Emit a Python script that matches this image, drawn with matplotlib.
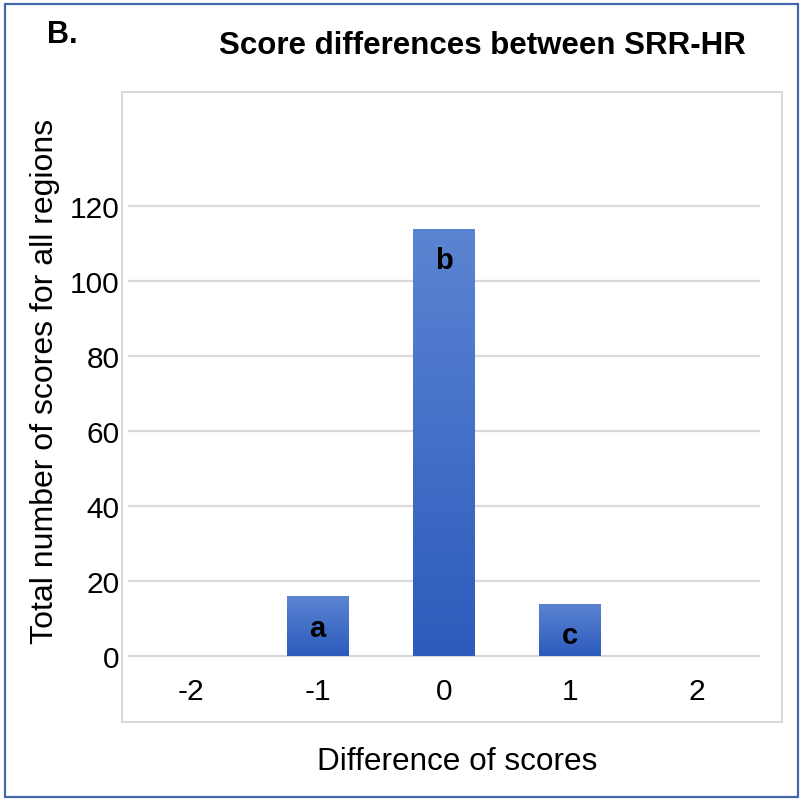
import numpy as np
import matplotlib.pyplot as plt
from matplotlib.patches import Rectangle
from matplotlib.colors import LinearSegmentedColormap

plt.rcParams['font.family'] = ['Liberation Sans', 'DejaVu Sans']

# ===== 数据 =====
categories = [-2, -1, 0, 1, 2]
tick_labels = ['-2', '-1', '0', '1', '2']
counts = [0, 16, 114, 14, 0]
bar_letters = ['', 'a', 'b', 'c', '']
y_ticks = [0, 20, 40, 60, 80, 100, 120]

title = 'Score differences between SRR-HR'
panel_label = 'B.'
x_label = 'Difference of scores'
y_label = 'Total number of scores for all regions'

W = 803
fig = plt.figure(figsize=(W / 100, W / 100), dpi=100)


def px(x0, y0, x1, y1):
    # 像素坐标 -> figure 坐标 (left, bottom, width, height)
    return [x0 / W, 1 - y1 / W, (x1 - x0) / W, (y1 - y0) / W]


# 外框 + 绘图区灰框
fig.patches.append(Rectangle((5 / W, 5 / W), 793 / W, 793 / W, transform=fig.transFigure,
                             fill=False, edgecolor='#4466AA', lw=1.6))
l, b, w, h = px(122, 93, 782, 723)
fig.patches.append(Rectangle((l, b), w, h, transform=fig.transFigure,
                             fill=False, edgecolor='#D9D9D9', lw=1.5))

ax = fig.add_axes(px(128, 199.5, 760, 664.5))
ax.set_xlim(-2.5, 2.5)
ax.set_ylim(-2, 122)
for s in ax.spines.values():
    s.set_visible(False)
ax.set_yticks(y_ticks)
ax.set_yticklabels([str(t) for t in y_ticks], fontsize=21.5)
ax.set_xticks(categories)
ax.set_xticklabels(tick_labels, fontsize=21.5)
ax.tick_params(length=0)
ax.tick_params(axis='y', pad=6)
ax.tick_params(axis='x', pad=10)
ax.yaxis.grid(True, color='#D9D9D9', lw=1.6)
ax.set_axisbelow(True)

# 渐变柱
cmap = LinearSegmentedColormap.from_list('bar', ['#2C5BBC', '#5B84D2'])
grad = np.linspace(0, 1, 256).reshape(-1, 1)
bars = ax.bar(categories, counts, width=0.49, color='#4270C8', zorder=2)
for bar, v in zip(bars, counts):
    if v <= 0:
        continue
    x0 = bar.get_x()
    im = ax.imshow(grad, extent=[x0, x0 + bar.get_width(), 0, v], origin='lower',
                   cmap=cmap, aspect='auto', zorder=3)
    im.set_clip_path(bar)
ax.set_xlim(-2.5, 2.5)
ax.set_ylim(-2, 122)

for c, v, t in zip(categories, counts, bar_letters):
    if t:
        ax.text(c, v - 8.5, t, ha='center', va='center', fontsize=21,
                fontweight='bold', color='black', zorder=4)

fig.text(482 / W, 1 - 46 / W, title, ha='center', va='center', fontsize=22.5, fontweight='bold')
fig.text(62 / W, 1 - 35 / W, panel_label, ha='center', va='center', fontsize=22, fontweight='bold')
fig.text(457 / W, 1 - 762 / W, x_label, ha='center', va='center', fontsize=22.7)
fig.text(45 / W, 1 - 381 / W, y_label, ha='center', va='center', rotation=90, fontsize=23)

fig.savefig('out.png', dpi=100)
